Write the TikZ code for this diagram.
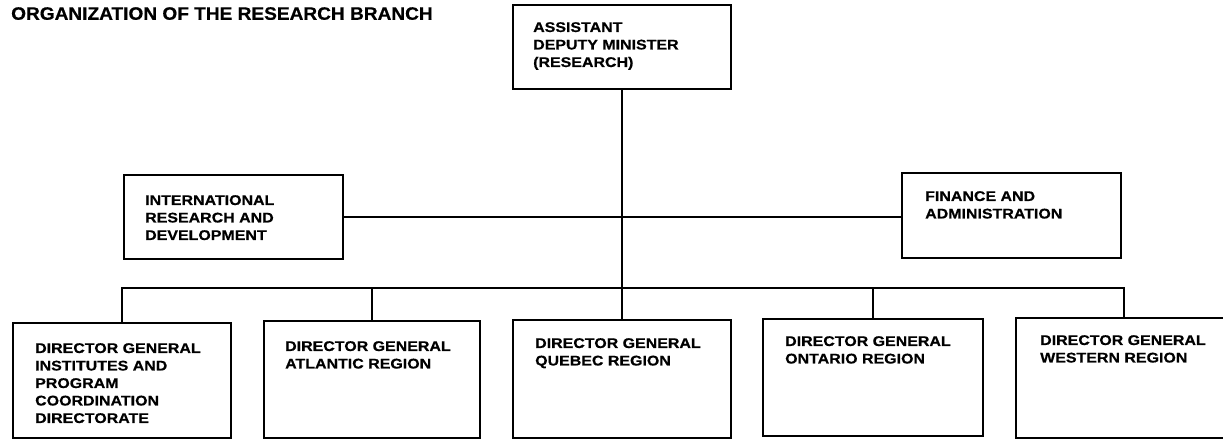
\documentclass[tikz,border=0pt]{standalone}
\usepackage{fontspec}
\newfontfamily\boxfont[FakeStretch=1.14,FakeBold=0.6]{Liberation Sans}
\newfontfamily\titlefont[FakeStretch=1.06,FakeBold=0.6]{Liberation Sans}
\begin{document}
\begin{tikzpicture}[x=1pt,y=-1pt,
  org/.style={draw,line width=1.8pt,inner sep=0pt,anchor=north west},
  lab/.style={anchor=north west,inner sep=0pt,align=left,font=\boxfont\bfseries\fontsize{14}{17.5}\selectfont},
  link/.style={line width=1.8pt}]
\useasboundingbox (0,0) rectangle (1223,440);
\node[anchor=north west,inner sep=0pt,font=\titlefont\bfseries\fontsize{18}{20}\selectfont] (title) at (11,7) {ORGANIZATION OF THE RESEARCH BRANCH};
% boxes
\node[org,minimum width=218pt,minimum height=84pt] (adm) at (512,4) {};
\node[org,minimum width=219pt,minimum height=84pt] (intl) at (123,174) {};
\node[org,minimum width=219pt,minimum height=85pt] (fin) at (901,172) {};
\node[org,minimum width=218pt,minimum height=115pt] (b1) at (12,322) {};
\node[org,minimum width=216pt,minimum height=117pt] (b2) at (263,320) {};
\node[org,minimum width=218pt,minimum height=118pt] (b3) at (512,319) {};
\node[org,minimum width=220pt,minimum height=117pt] (b4) at (762,318) {};
\node[org,minimum width=216pt,minimum height=120pt] (b5) at (1015,317) {};
% texts
\node[lab] (admt) at (533,22) {ASSISTANT\\DEPUTY MINISTER\\(RESEARCH)};
\node[lab] (intlt) at (145,195) {INTERNATIONAL\\RESEARCH AND\\DEVELOPMENT};
\node[lab] (fint) at (925,191) {FINANCE AND\\ADMINISTRATION};
\node[lab] (b1t) at (35,343) {DIRECTOR GENERAL\\INSTITUTES AND\\PROGRAM\\COORDINATION\\DIRECTORATE};
\node[lab] (b2t) at (285,341) {DIRECTOR GENERAL\\ATLANTIC REGION};
\node[lab] (b3t) at (535,338) {DIRECTOR GENERAL\\QUEBEC REGION};
\node[lab] (b4t) at (785,336) {DIRECTOR GENERAL\\ONTARIO REGION};
\node[lab] (b5t) at (1040,335) {DIRECTOR GENERAL\\WESTERN REGION};
% connectors
\coordinate (busy) at (0,288);
\draw[link] (adm.south) -- (b3.north);
\draw[link] (intl.east) -- (intl.east -| fin.west);
\draw[link] (b1.north) -- (b1.north |- busy) -- (b5.north |- busy) -- (b5.north);
\draw[link] (b2.north) -- (b2.north |- busy);
\draw[link] (b4.north) -- (b4.north |- busy);
\end{tikzpicture}
\end{document}
